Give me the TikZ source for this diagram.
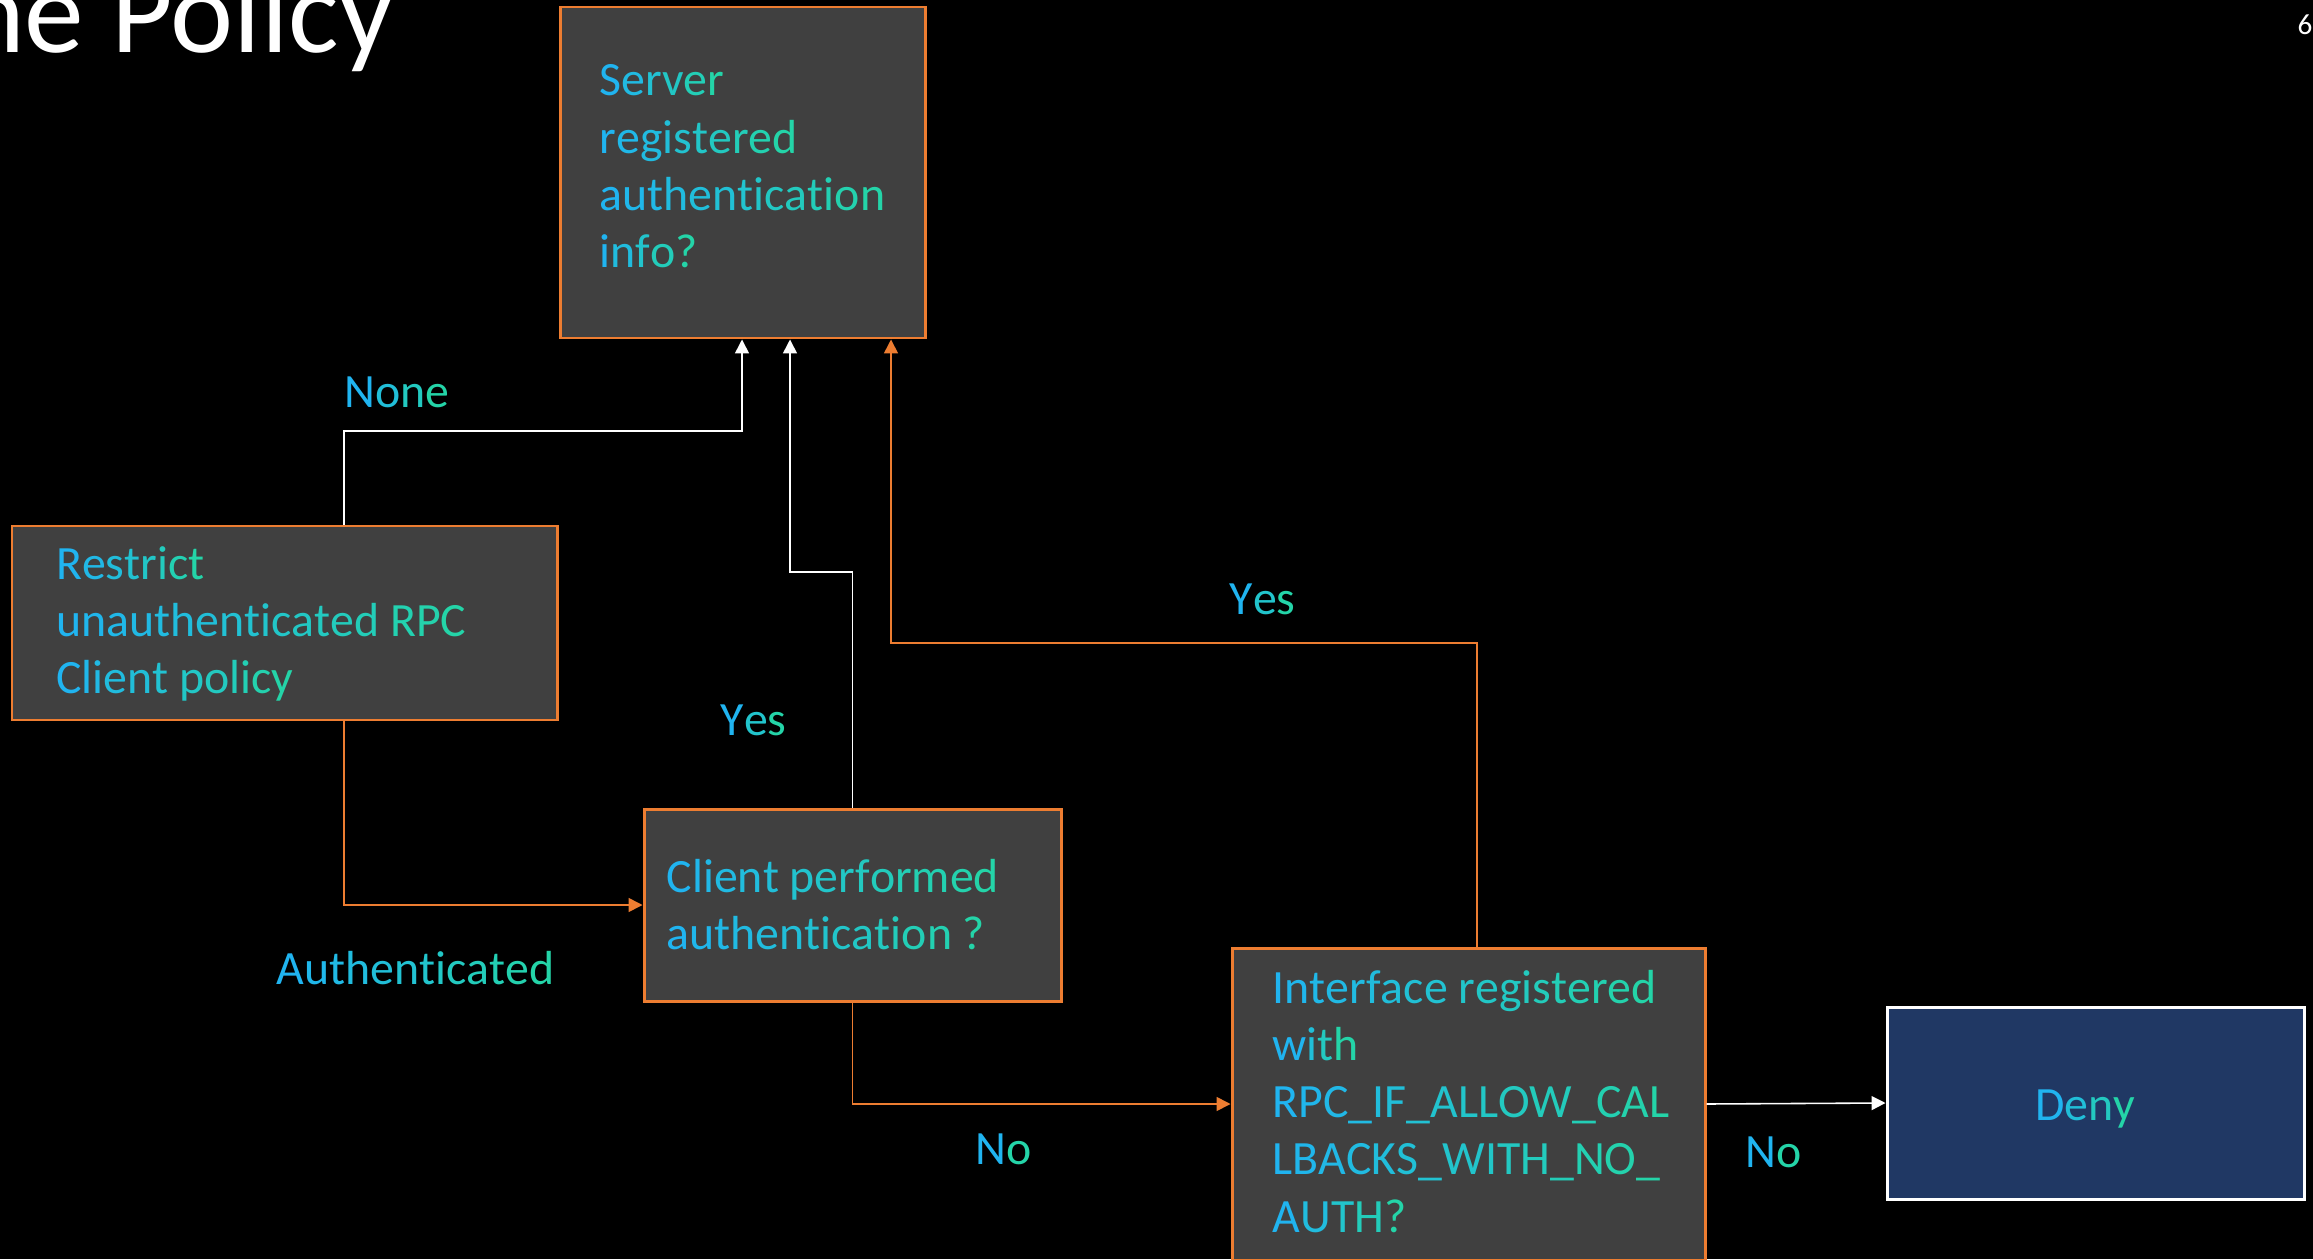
\documentclass[tikz,border=0pt]{standalone}
\usepackage{fontspec}
\setmainfont{Carlito}
\usetikzlibrary{arrows.meta}

\definecolor{gtB}{RGB}{32,180,240}
\definecolor{gtG}{RGB}{36,212,168}
\definecolor{orng}{RGB}{237,125,49}
\definecolor{boxgray}{RGB}{64,64,64}
\definecolor{denyblue}{RGB}{32,56,100}

% one line of text with a left-to-right blue-to-green colour ramp
\ExplSyntaxOn
\int_new:N \l__gr_n_int
\int_new:N \l__gr_i_int
\str_new:N \l__gr_str
\NewDocumentCommand \gradline { m }
  {
    \str_set:Nn \l__gr_str {#1}
    \int_set:Nn \l__gr_n_int { \str_count:N \l__gr_str }
    \int_zero:N \l__gr_i_int
    \str_map_inline:Nn \l__gr_str
      {
        \group_begin:
        \color { gtB ! \int_eval:n { 100 - 100 * \l__gr_i_int / \int_max:nn {1} {\l__gr_n_int - 1} } ! gtG }
        \scan_stop:
        ##1
        \group_end:
        \int_incr:N \l__gr_i_int
      }
  }
\ExplSyntaxOff
\newcommand\gl[1]{\hbox{\gradline{#1}}}

\tikzset{
  flowbox/.style={draw=orng, line width=0.85pt, fill=boxgray, inner sep=0pt},
  denybox/.style={draw=white, line width=0.85pt, fill=denyblue, inner sep=0pt},
  txt/.style={inner sep=0pt, anchor=base west, font=\fontsize{13.6pt}{16.3pt}\selectfont},
  wire/.style={line width=0.45pt, -{Triangle[length=0.14cm,width=0.14cm]}},
}

\begin{document}
\begin{tikzpicture}[y=-1cm]
  \useasboundingbox (0,0) rectangle (23.13,12.59);
  \fill[black] (0,0) rectangle (23.13,12.59);
  \clip (0,0) rectangle (23.13,12.59);

  % slide title and page number
  \node[inner sep=0pt, anchor=base east, text=white, font=\fontsize{34pt}{40pt}\selectfont] (title) at (3.94,0.53) {ne Policy};
  \node[inner sep=0pt, anchor=base west, text=white, font=\fontsize{8.3pt}{10pt}\selectfont] (pagenum) at (22.97,0.35) {6};

  % boxes
  \node[flowbox, minimum width=3.65cm, minimum height=3.31cm] (srv) at (7.425,1.725) {};
  \node[flowbox, minimum width=5.45cm, minimum height=1.94cm] (rst) at (2.845,6.23) {};
  \node[flowbox, minimum width=4.17cm, minimum height=1.92cm] (cli) at (8.525,9.05) {};
  \node[flowbox, minimum width=4.73cm, minimum height=3.12cm] (ifc) at (14.685,11.04) {};
  \node[denybox, minimum width=4.17cm, minimum height=1.92cm] (deny) at (20.955,11.03) {};

  % box texts
  \node[txt] (srvT) at (5.99,0.96) {\vtop{\gl{Server}\gl{registered}\gl{authentication}\gl{info?}}};
  \node[txt] (rstT) at (0.555,5.79) {\vtop{\gl{Restrict}\gl{unauthenticated RPC}\gl{Client policy}}};
  \node[txt] (cliT) at (6.66,8.92) {\vtop{\gl{Client performed}\gl{authentication ?}}};
  \node[txt] (ifcT) at (12.72,10.03) {\vtop{\gl{Interface registered}\gl{with}\gl{RPC_IF_ALLOW_CAL}\gl{LBACKS_WITH_NO_}\gl{AUTH?}}};
  \node[txt, anchor=base] (denyT) at (20.85,11.20) {\gradline{Deny}};

  % bend points
  \coordinate (nA) at (3.44,4.31);
  \coordinate (nB) at (7.42,4.31);
  \coordinate (yA) at (8.525,5.72);
  \coordinate (yB) at (7.90,5.72);
  \coordinate (zA) at (14.77,6.43);
  \coordinate (zB) at (8.91,6.43);

  % connectors
  \draw[wire, white] (rst.north -| nA) -- (nA) -- (nB) -- (srv.south -| nB);
  \draw[wire, white] (cli.north) -- (yA) -- (yB) -- (srv.south -| yB);
  \draw[wire, orng] (ifc.north -| zA) -- (zA) -- (zB) -- (srv.south -| zB);
  \draw[wire, orng] (rst.south -| nA) |- (cli.west);
  \draw[wire, orng] (cli.south) |- (ifc.west);
  \draw[wire, white] (ifc.east) -- (deny.west);

  % connector labels
  \node[txt] (lNone) at (3.44,4.07) {\gradline{None}};
  \node[txt] (lYes1) at (7.20,7.35) {\gradline{Yes}};
  \node[txt] (lYes2) at (12.29,6.14) {\gradline{Yes}};
  \node[txt] (lAuth) at (2.76,9.84) {\gradline{Authenticated}};
  \node[txt] (lNo1) at (9.75,11.64) {\gradline{No}};
  \node[txt] (lNo2) at (17.45,11.67) {\gradline{No}};
\end{tikzpicture}
\end{document}
